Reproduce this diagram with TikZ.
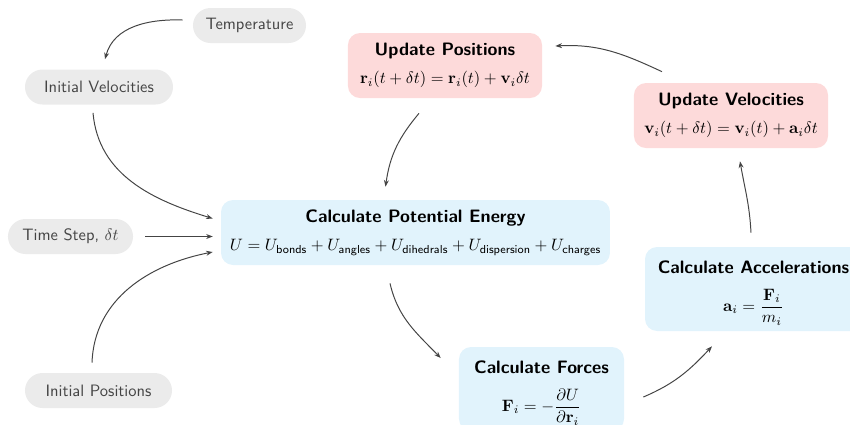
\documentclass[tikz,border=0pt]{standalone}
\usepackage{amsmath}
\usetikzlibrary{arrows.meta,calc}
\definecolor{graybg}{HTML}{EBEBEB}
\definecolor{graytx}{HTML}{444444}
\definecolor{pinkbg}{HTML}{FDDADA}
\definecolor{bluebg}{HTML}{E1F3FC}
\definecolor{arrcol}{HTML}{444444}
\newcommand{\boxtitle}[1]{{\fontsize{10.9}{13}\selectfont\bfseries #1}}
\begin{document}
\begin{tikzpicture}[x=0.606pt,y=0.606pt,
  inputbox/.style={fill=graybg,text=graytx,font=\sffamily,rounded corners=10.6pt,minimum height=21.2pt,inner sep=0pt},
  updbox/.style={fill=pinkbg,font=\sffamily,rounded corners=7.3pt,minimum width=117.6pt,minimum height=39.4pt,inner sep=0pt,align=center},
  calcbox/.style={fill=bluebg,font=\sffamily,rounded corners=7.3pt,inner sep=0pt,align=center},
  flow/.style={draw=arrcol,line width=0.6pt,-{Stealth[length=4pt,width=3pt]}}]
\useasboundingbox (0,0) rectangle (850,-424);
\clip (0,0) rectangle (850,-424);
% input nodes
\node[inputbox,minimum width=68.5pt] (temp) at (249.5,-25.5) {Temperature};
\node[inputbox,minimum width=89.7pt] (iv) at (99,-87) {Initial Velocities};
\node[inputbox,minimum width=75.8pt] (ts) at (70.5,-236.5) {Time Step, $\delta t$};
\node[inputbox,minimum width=89.1pt] (ip) at (98.5,-390.5) {Initial Positions};
% update nodes
\node[updbox] (up) at (445,-65.5) {\boxtitle{Update Positions}\\[5pt] $\mathbf{r}_i(t+\delta t)=\mathbf{r}_i(t)+\mathbf{v}_i\delta t$};
\node[updbox] (uv) at (731,-115.5) {\boxtitle{Update Velocities}\\[5pt] $\mathbf{v}_i(t+\delta t)=\mathbf{v}_i(t)+\mathbf{a}_i\delta t$};
% calculation nodes
\node[calcbox,minimum width=235.7pt,minimum height=39.4pt] (cpe) at (415.5,-232.5) {\boxtitle{Calculate Potential Energy}\\[5.5pt] $U=U_{\mathsf{bonds}}+U_{\mathsf{angles}}+U_{\mathsf{dihedrals}}+U_{\mathsf{dispersion}}+U_{\mathsf{charges}}$};
\node[calcbox,minimum width=100pt,minimum height=50.9pt] (cf) at (541.5,-389) {\rule{0pt}{12.8pt}\boxtitle{Calculate Forces}\\[8pt] $\mathbf{F}_i=-\dfrac{\partial U}{\partial\mathbf{r}_i}$};
\node[calcbox,minimum width=131.5pt,minimum height=50.9pt] (ca) at (753.5,-289) {\rule{0pt}{12.8pt}\boxtitle{Calculate Accelerations}\\[8pt] $\mathbf{a}_i=\dfrac{\mathbf{F}_i}{m_i}$};
% connectors
\draw[flow] ($(temp.west)+(-10,5.5)$) to[out=178,in=75] ($(iv.north)+(6,10)$);
\draw[flow] ($(iv.south)+(-6,-8)$) to[out=-85,in=163] ($(cpe.west)+(-8,14)$);
\draw[flow,shorten <=7.3pt,shorten >=4.8pt] (ts.east) -- (ts.east -| cpe.west);
\draw[flow] ($(ip.north)+(-6.5,10)$) to[out=88,in=191] ($(cpe.west)+(-8,-19.5)$);
\draw[flow] ($(up.south)+(-26,-15)$) to[out=230,in=82] ($(cpe.north)+(-30,13)$);
\draw[flow] ($(cpe.south)+(-25.5,-18)$) to[out=-77,in=134] ($(cf.west)+(-18,31)$);
\draw[flow] ($(cf.east)+(19,-8)$) to[out=23,in=227] ($(ca.south)+(-41.5,-15)$);
\draw[flow] ($(ca.north)+(-2.5,14)$) to[out=93,in=-80] ($(uv.south)+(9,-13)$);
\draw[flow] ($(uv.north)+(-69,11)$) to[out=155,in=3] ($(up.east)+(13,19.5)$);
\end{tikzpicture}
\end{document}
